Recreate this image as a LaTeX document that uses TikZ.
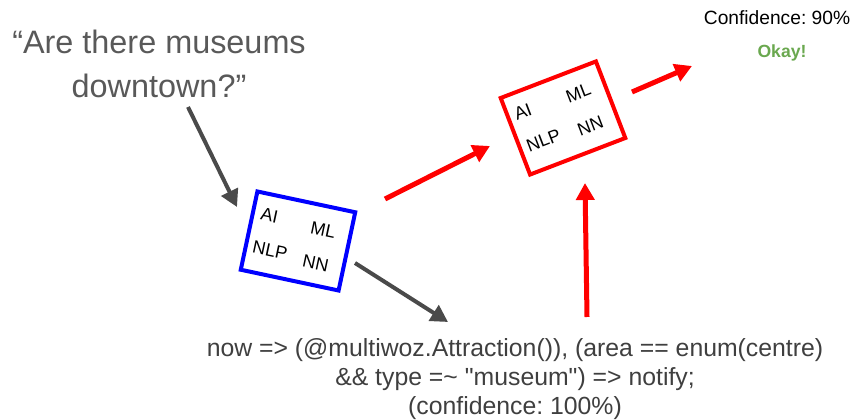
\documentclass[tikz,border=0pt]{standalone}
\usepackage{fontspec}
\setmainfont{Liberation Sans}
\usepackage{xcolor}
\usepackage{tikz}
\usetikzlibrary{arrows.meta,calc}
\frenchspacing
\definecolor{quotegray}{HTML}{595959}
\definecolor{codegray}{HTML}{3F3F3F}
\definecolor{arrgray}{HTML}{4A4A4A}
\definecolor{okgreen}{HTML}{6AA84F}
\tikzset{
  kbox/.style={draw, rectangle, line width=4pt, minimum width=100pt, minimum height=80pt, inner sep=0pt},
  term/.style={font=\fontsize{18}{18}\selectfont, inner sep=0pt},
  arr/.style={-{Triangle[length=17pt,width=18pt]}},
  grayarr/.style={arr, draw=arrgray, fill=arrgray, line width=4pt},
  redarr/.style={arr, draw=red, fill=red, line width=5pt}
}

\begin{document}
\begin{tikzpicture}[x=1pt,y=1pt]
\useasboundingbox (0,0) rectangle (854,420);

% input utterance
\node[font=\fontsize{32.4}{44}\selectfont, text=quotegray, align=center] (query) at (159,356) {“Are there museums\\ downtown?”};

% parser (blue)
\begin{scope}[shift={(298,179)}, rotate=-12, transform shape]
  \node[kbox, draw=blue] (parser) {};
  \node[term, anchor=west] (parser-ai) at (-42,19) {AI};
  \node[term, anchor=east] (parser-ml) at (35,16) {ML};
  \node[term, anchor=west] (parser-nlp) at (-43,-15) {NLP};
  \node[term, anchor=east] (parser-nn) at (35,-18) {NN};
\end{scope}

% confidence model (red)
\begin{scope}[shift={(563,302)}, rotate=21, transform shape]
  \node[kbox, draw=red, minimum width=102pt, minimum height=82pt] (model) {};
  \node[term, anchor=west] (model-ai) at (-44,20) {AI};
  \node[term, anchor=east] (model-ml) at (36,18) {ML};
  \node[term, anchor=west] (model-nlp) at (-44,-14) {NLP};
  \node[term, anchor=east] (model-nn) at (36,-17) {NN};
\end{scope}

% program
\node[font=\fontsize{24.8}{29}\selectfont, text=codegray, align=center] (program) at (515,41)
  {now => (@multiwoz.Attraction()), (area == enum(centre)\\
   \&\& type =\textasciitilde{} \textquotedbl museum\textquotedbl) => notify;\\
   (confidence: 100\%)};

% result
\node[font=\fontsize{19.2}{22}\selectfont] (conf) at (777,402) {Confidence: 90\%};
\node[font=\fontsize{17.6}{20}\selectfont\bfseries, text=okgreen] (okay) at (782,367) {Okay!};

% arrow ends
\coordinate (query-out) at (188,313);
\coordinate (parser-in) at (237,213);
\coordinate (parser-out) at (355,157);
\coordinate (program-in) at (448,98);
\coordinate (parser-out2) at (385,221);
\coordinate (model-in) at (490,274);
\coordinate (program-out) at (587,103);
\coordinate (model-in2) at (585,237);
\coordinate (model-out) at (632,328);
\coordinate (conf-in) at (692,354);

\draw[grayarr] (query-out) -- (parser-in);
\draw[grayarr] (parser-out) -- (program-in);
\draw[redarr] (parser-out2) -- (model-in);
\draw[redarr] (program-out) -- (model-in2);
\draw[redarr] (model-out) -- (conf-in);
\end{tikzpicture}
\end{document}
